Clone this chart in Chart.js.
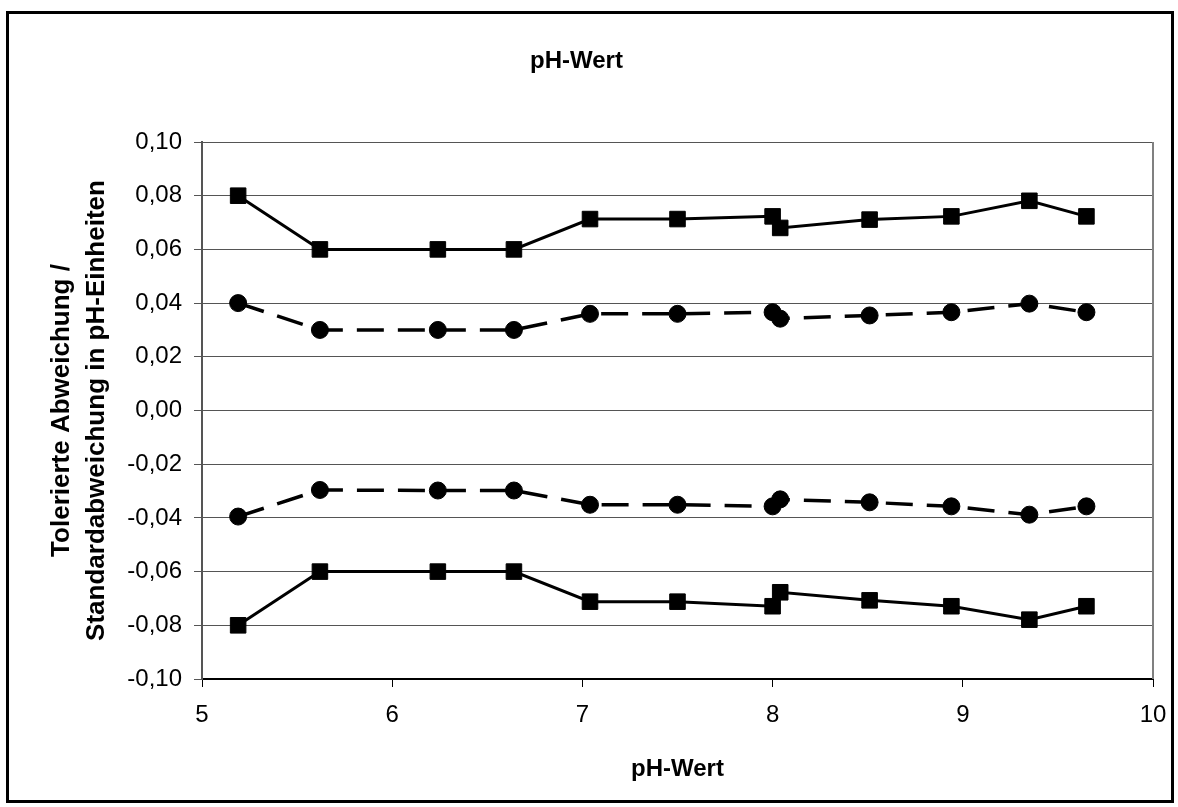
<!DOCTYPE html>
<html>
<head>
<meta charset="utf-8">
<script src="https://cdn.jsdelivr.net/npm/chart.js@4/dist/chart.umd.min.js"></script>
<style>
  html, body { margin: 0; padding: 0; background: #fff; }
  #frame {
    position: absolute; left: 6px; top: 11px;
    width: 1162px; height: 786px;
    border: 3px solid #000;
    box-sizing: content-box;
  }
  #chart { position: absolute; left: 0; top: 0; }
</style>
</head>
<body>
<div id="frame"></div>
<canvas id="chart" width="1178" height="807"></canvas>
<script>
// pH values (x) and the four curves
const phValues = [5.19, 5.62, 6.24, 6.64, 7.04, 7.50, 8.00, 8.04, 8.51, 8.94, 9.35, 9.65];
const upperTol = [0.080, 0.060, 0.060, 0.060, 0.0713, 0.0713, 0.0723, 0.0680, 0.0711, 0.0723, 0.0781, 0.0723];
const upperSd = [0.040, 0.030, 0.030, 0.030, 0.0360, 0.0360, 0.0366, 0.0342, 0.0354, 0.0366, 0.0398, 0.0366];
const lowerSd = [-0.0395, -0.0296, -0.0298, -0.0298, -0.0351, -0.0351, -0.0357, -0.0331, -0.0342, -0.0357, -0.0388, -0.0357];
const lowerTol = [-0.080, -0.060, -0.060, -0.060, -0.0712, -0.0712, -0.0729, -0.0677, -0.0707, -0.0729, -0.0779, -0.0729];

const FONT = "'Liberation Sans', Arial, sans-serif";

const toPoints = (ys) => phValues.map((x, i) => ({ x: x, y: ys[i] }));

const squareSet = (ys) => ({
    data: toPoints(ys),
    showLine: true,
    borderColor: '#000',
    backgroundColor: '#000',
    borderWidth: 3,
    pointStyle: 'rect',
    pointRadius: 11,
    pointBorderWidth: 1
});

const circleSet = (ys) => ({
    data: toPoints(ys),
    showLine: true,
    borderColor: '#000',
    backgroundColor: '#000',
    borderWidth: 3.5,
    borderDash: [27, 14],
    pointStyle: 'circle',
    pointRadius: 8.5,
    pointBorderWidth: 1
});

// grey edge on the right of the plot area
const plotBorder = {
    id: 'plotBorder',
    beforeDatasetsDraw(chart) {
        const { ctx, chartArea: a } = chart;
        ctx.save();
        ctx.strokeStyle = '#808080';
        ctx.lineWidth = 2;
        ctx.beginPath();
        ctx.moveTo(a.right, a.top);
        ctx.lineTo(a.right, a.bottom);
        ctx.stroke();
        ctx.restore();
    }
};

const fmt = (v) => Math.abs(v) < 1e-9 ? '0,00' : v.toFixed(2).replace('.', ',');

new Chart(document.getElementById('chart'), {
    type: 'scatter',
    data: {
        datasets: [squareSet(upperTol), circleSet(upperSd), circleSet(lowerSd), squareSet(lowerTol)]
    },
    options: {
        responsive: false,
        animation: false,
        layout: { padding: { left: 0, right: 25, top: 0, bottom: 0 } },
        plugins: {
            legend: { display: false },
            tooltip: { enabled: false },
            title: {
                display: true,
                text: 'pH-Wert',
                color: '#000',
                font: { family: FONT, size: 24, weight: 'bold', lineHeight: 1.2 },
                padding: { top: 47, bottom: 66.2 }
            }
        },
        scales: {
            x: {
                type: 'linear',
                min: 5,
                max: 10,
                ticks: {
                    stepSize: 1,
                    color: '#000',
                    font: { family: FONT, size: 24 },
                    padding: 14
                },
                grid: {
                    drawOnChartArea: false,
                    drawTicks: true,
                    tickLength: 8,
                    tickColor: '#000'
                },
                border: { color: '#000', width: 2 },
                title: {
                    display: true,
                    text: 'pH-Wert',
                    color: '#000',
                    font: { family: FONT, size: 24, weight: 'bold', lineHeight: 1.2 },
                    padding: { top: 0, bottom: 23 }
                },
                afterFit: (scale) => {
                    scale.height = 128;
                    scale.paddingRight = 20;
                }
            },
            y: {
                type: 'linear',
                min: -0.1,
                max: 0.1,
                ticks: {
                    stepSize: 0.02,
                    color: '#000',
                    font: { family: FONT, size: 24 },
                    padding: 12,
                    callback: (value) => fmt(value)
                },
                grid: {
                    color: '#555',
                    lineWidth: 1,
                    tickLength: 8,
                    tickColor: '#555'
                },
                border: { color: '#555', width: 2 },
                title: {
                    display: true,
                    text: ['Tolerierte Abweichung /', 'Standardabweichung in pH-Einheiten'],
                    color: '#000',
                    font: { family: FONT, size: 26, weight: 'bold', lineHeight: 1.35 },
                    padding: { top: 44, bottom: 0 }
                },
                afterFit: (scale) => { scale.width = 202; }
            }
        }
    },
    plugins: [plotBorder]
});
</script>
</body>
</html>
